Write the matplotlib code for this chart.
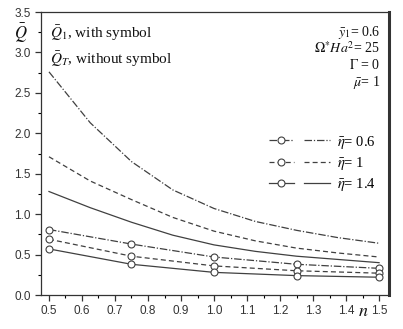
import matplotlib
matplotlib.use("Agg")
import matplotlib.pyplot as plt
from matplotlib.legend_handler import HandlerTuple
from matplotlib.ticker import MultipleLocator

# Q_1 (with symbol), sampled at n = 0.5, 0.75, ..., 1.5
n_sym = [0.5, 0.75, 1.0, 1.25, 1.5]
q1_eta06 = [0.81, 0.63, 0.47, 0.38, 0.33]
q1_eta10 = [0.69, 0.48, 0.36, 0.30, 0.27]
q1_eta14 = [0.57, 0.38, 0.28, 0.24, 0.22]

# Q_T (without symbol), read at n = 0.5, 0.625, ..., 1.5
n_line = [0.5, 0.625, 0.75, 0.875, 1.0, 1.125, 1.25, 1.375, 1.5]
qt_eta06 = [2.76, 2.13, 1.65, 1.30, 1.07, 0.91, 0.80, 0.71, 0.64]
qt_eta10 = [1.71, 1.41, 1.18, 0.96, 0.79, 0.67, 0.58, 0.52, 0.47]
qt_eta14 = [1.28, 1.08, 0.90, 0.74, 0.62, 0.54, 0.48, 0.44, 0.40]

eta_labels = ["0.6", "1", "1.4"]

plt.rcParams["mathtext.fontset"] = "stix"
plt.rcParams["font.family"] = "Liberation Sans"

color = "#404040"
styles = [(0, (6, 1.5, 1, 1.5)), (0, (4, 2.5)), "-"]

fig = plt.figure(figsize=(4.03, 3.29), dpi=100)
ax = fig.add_axes([0.1017, 0.1033, 0.8635, 0.8602])

handles = []
for q1, qt, ls in zip([q1_eta06, q1_eta10, q1_eta14],
                      [qt_eta06, qt_eta10, qt_eta14], styles):
    h1, = ax.plot(n_sym, q1, color=color, lw=0.9, ls=ls, marker="o",
                  markersize=5, markerfacecolor="white",
                  markeredgecolor=color, markeredgewidth=0.8)
    h2, = ax.plot(n_line, qt, color=color, lw=0.9, ls=ls)
    handles.append((h1, h2))

ax.set_xlim(0.4758, 1.530)
ax.set_ylim(0, 3.5)
ax.set_xticks([0.5, 0.6, 0.7, 0.8, 0.9, 1.0, 1.1, 1.2, 1.3, 1.4, 1.5])
ax.xaxis.set_minor_locator(MultipleLocator(0.05))
ax.yaxis.set_major_locator(MultipleLocator(0.5))
ax.yaxis.set_minor_locator(MultipleLocator(0.25))
ax.tick_params(which="major", direction="out", length=4, width=0.9,
               labelsize=8.5, colors="#333333")
ax.tick_params(which="minor", direction="out", length=2.5, width=0.8)
for sp in ax.spines.values():
    sp.set_linewidth(0.9)
    sp.set_color("#333333")
ax.spines["right"].set_linewidth(2.2)

serif = dict(family="Liberation Serif", color="#111111")
fig.text(0.035, 0.897, r"$\bar{Q}$", fontsize=12, va="center", **serif)
ax.text(0.026, 0.924, r"$\bar{Q}_1$, with symbol", transform=ax.transAxes,
        fontsize=11, va="center", **serif)
ax.text(0.026, 0.832, r"$\bar{Q}_T$, without symbol", transform=ax.transAxes,
        fontsize=11, va="center", **serif)

notes = [r"$\bar{y}_1$= 0.6", r"$\Omega^{*}Ha^2$= 25", r"$\Gamma$ = 0",
         r"$\bar{\mu}$= 1"]
note_y = [0.915, 0.855, 0.80, 0.74]
for s, y in zip(notes, note_y):
    ax.text(0.974, y, s, transform=ax.transAxes,
            fontsize=10, ha="right", va="baseline", **serif)

fig.text(0.888, 0.04, r"$n$", fontsize=13, **serif)

leg = ax.legend(handles, [r"$\bar{\eta}$= " + e for e in eta_labels],
                handler_map={tuple: HandlerTuple(ndivide=None, pad=0.7)},
                loc="center right", bbox_to_anchor=(1.0, 0.465),
                frameon=False, handlelength=4.2, handletextpad=0.5,
                labelspacing=0.3, prop={"family": "Liberation Serif",
                                        "size": 10.5})

fig.savefig("out.png", dpi=100)
